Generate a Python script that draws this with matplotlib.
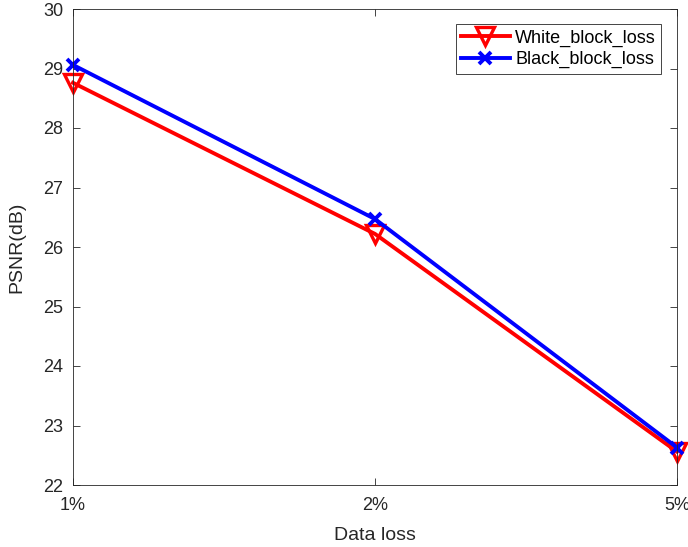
import matplotlib
matplotlib.use("Agg")
import matplotlib.pyplot as plt

plt.rcParams['font.family'] = ['Liberation Sans', 'DejaVu Sans']

# data
loss_labels = ['1%', '2%', '5%']
white_loss = [28.76, 26.22, 22.56]
black_loss = [29.06, 26.47, 22.63]

fig = plt.figure(figsize=(6.88, 5.47), dpi=100)
ax = fig.add_axes([73 / 688, 62 / 547, 604 / 688, 476 / 547])

x = range(len(loss_labels))
ax.plot(x, white_loss, color='red', lw=2.8, marker='v', ms=13,
        mfc='none', mec='red', mew=2.4, label='White_block_loss', clip_on=False)
ax.plot(x, black_loss, color='blue', lw=2.8, marker='x', ms=9,
        mec='blue', mew=2.8, label='Black_block_loss', clip_on=False)

ax.set_xlim(0, 2)
ax.set_ylim(22, 30)
ax.set_xticks(list(x))
ax.set_xticklabels(loss_labels)
ax.set_yticks(range(22, 31))

grey = '#262626'
for s in ax.spines.values():
    s.set_color(grey)
    s.set_linewidth(0.6)
ax.tick_params(direction='in', top=True, right=True, length=5, width=0.6,
               color=grey, labelcolor=grey, labelsize=13)
ax.tick_params(axis='x', pad=9)
ax.tick_params(axis='y', pad=7)

ax.set_xlabel('Data loss', fontsize=14, color=grey, labelpad=9)
ax.set_ylabel('PSNR(dB)', fontsize=14, color=grey, labelpad=13)

leg = ax.legend(loc='upper right', bbox_to_anchor=(0.983, 0.98), fontsize=13,
                fancybox=False, framealpha=1, edgecolor=grey, handlelength=2.7,
                borderpad=0.3, labelspacing=0.25, handletextpad=0.3,
                borderaxespad=0.3)
leg.get_frame().set_linewidth(0.6)

fig.savefig('out.png', dpi=100)
